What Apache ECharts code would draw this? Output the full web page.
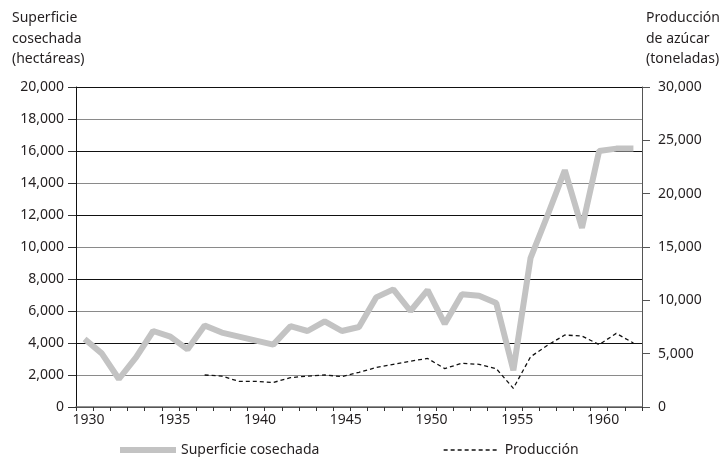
<!DOCTYPE html>
<html>
<head>
<meta charset="utf-8" />
<script src="https://cdn.jsdelivr.net/npm/echarts@6/dist/echarts.min.js"></script>
<style>
  html, body { margin: 0; padding: 0; background: #fff; }
  #chart { width: 726px; height: 457px; }
</style>
</head>
<body>
<div id="chart"></div>
<script>
const years = [
  1930, 1931, 1932, 1933, 1934, 1935, 1936, 1937, 1938, 1939, 1940,
  1941, 1942, 1943, 1944, 1945, 1946, 1947, 1948, 1949, 1950, 1951,
  1952, 1953, 1954, 1955, 1956, 1957, 1958, 1959, 1960, 1961, 1962,
];

// hectáreas (eje izquierdo)
const superficie = [
  4250, 3350, 1750, 3100, 4750, 4400, 3600, 5100, 4650, 4400, 4150,
  3900, 5050, 4750, 5350, 4750, 5000, 6850, 7350, 6000, 7300, 5200,
  7050, 6950, 6500, 2300, 9300, 12000, 14800, 11200, 16000, 16150, 16150,
];

// toneladas (eje derecho), sin datos antes de 1937
const produccion = [
  null, null, null, null, null, null, null, 3000, 2900, 2400, 2400,
  2300, 2750, 2900, 3000, 2850, 3250, 3700, 4000, 4300, 4550, 3600,
  4100, 4000, 3600, 1750, 4700, 5800, 6750, 6650, 5850, 6900, 6000,
];

const leftTicks = { min: 0, max: 20000, interval: 2000 };
const rightTicks = { min: 0, max: 30000, interval: 5000 };

const FONT = '"Noto Sans", sans-serif';
const INK = "#231f20";

function fmt(v) {
  return v.toLocaleString("en-US");
}

function legendAt(name, left) {
  return {
    data: [name],
    left: left,
    top: 438,
    itemWidth: 56,
    itemHeight: 14,
    itemGap: 5,
    itemStyle: { opacity: 0 },
    lineStyle: { width: "inherit" },
    textStyle: { fontFamily: FONT, fontSize: 14, color: INK },
  };
}

function getChartOption() {
  const titleStyle = { fontFamily: FONT, fontSize: 14, fontWeight: "normal", color: INK, lineHeight: 20.5 };
  return {
    animation: false,
    textStyle: { fontFamily: FONT, color: INK },
    title: [
      { text: "Superficie\ncosechada\n(hectáreas)", left: 7, top: 3, textStyle: titleStyle },
      { text: "Producción\nde azúcar\n(toneladas)", left: 641, top: 3, textStyle: titleStyle },
    ],
    legend: [legendAt("Superficie cosechada", 112), legendAt("Producción", 438)],
    grid: { left: 76, right: 84, top: 87, bottom: 50 },
    xAxis: {
      type: "category",
      data: years,
      boundaryGap: true,
      axisLine: { lineStyle: { color: "#6e6e6e", width: 1.5 } },
      axisTick: { show: true, interval: 0, length: 4, lineStyle: { color: "#333" } },
      axisLabel: {
        interval: 4,
        margin: 6,
        padding: [0, 0, 0, 8],
        fontSize: 14,
        color: INK,
        fontFamily: FONT,
      },
      splitLine: { show: false },
    },
    yAxis: [
      {
        type: "value",
        min: leftTicks.min,
        max: leftTicks.max,
        interval: leftTicks.interval,
        axisLine: { show: true, lineStyle: { color: "#111", width: 1 } },
        axisTick: { show: true, length: 8, lineStyle: { color: "#333" } },
        axisLabel: { margin: 12, fontSize: 14, color: INK, fontFamily: FONT, formatter: fmt },
        splitLine: { show: true, lineStyle: { color: ["#111", "#8a8a8a"], width: 1 } },
      },
      {
        type: "value",
        min: rightTicks.min,
        max: rightTicks.max,
        interval: rightTicks.interval,
        position: "right",
        axisLine: { show: true, lineStyle: { color: "#555", width: 1 } },
        axisTick: { show: true, length: 8, lineStyle: { color: "#555" } },
        axisLabel: { margin: 16, fontSize: 14, color: INK, fontFamily: FONT, formatter: fmt },
        splitLine: { show: false },
      },
    ],
    series: [
      {
        name: "Superficie cosechada",
        type: "line",
        yAxisIndex: 0,
        data: superficie,
        symbol: "none",
        color: "#c3c3c3",
        lineStyle: { color: "#c3c3c3", width: 6 },
        z: 3,
      },
      {
        name: "Producción",
        type: "line",
        yAxisIndex: 1,
        data: produccion,
        symbol: "none",
        color: "#111",
        lineStyle: { color: "#111", width: 1.3, type: [4, 3] },
        z: 4,
      },
    ],
  };
}

const chart = echarts.init(document.getElementById("chart"), undefined, { renderer: "canvas" });
chart.setOption(getChartOption());
</script>
</body>
</html>
